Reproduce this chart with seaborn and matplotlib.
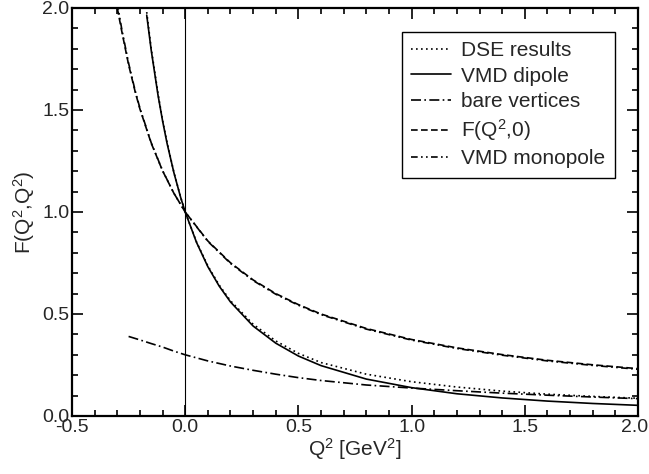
import matplotlib
matplotlib.use("Agg")
import matplotlib.pyplot as plt
import matplotlib.transforms as mtransforms
import seaborn as sns
import numpy as np
from matplotlib.ticker import MultipleLocator

sns.set_style("ticks")
plt.rcParams['font.family'] = ['Liberation Sans', 'DejaVu Sans']
plt.rcParams['mathtext.default'] = 'regular'

# ---- data ----
x_dse = [-0.17, -0.15, -0.12, -0.10, -0.08, -0.05, -0.02, 0.0, 0.05, 0.10, 0.15, 0.20,
         0.30, 0.40, 0.50, 0.60, 0.80, 1.00, 1.20, 1.40, 1.60, 1.80, 2.00]
y_dse = [1.98, 1.80, 1.58, 1.45, 1.34, 1.195, 1.072, 1.0, 0.853, 0.736, 0.642, 0.565,
         0.450, 0.368, 0.307, 0.262, 0.205, 0.168, 0.142, 0.122, 0.107, 0.096, 0.087]

x_dip = [-0.17, -0.15, -0.12, -0.10, -0.08, -0.05, -0.02, 0.0, 0.05, 0.10, 0.15, 0.20,
         0.30, 0.40, 0.50, 0.60, 0.80, 1.00, 1.20, 1.40, 1.60, 1.80, 2.00]
y_dip = [1.965, 1.792, 1.572, 1.447, 1.336, 1.193, 1.071, 1.0, 0.851, 0.732, 0.637, 0.559,
         0.441, 0.357, 0.294, 0.247, 0.181, 0.139, 0.109, 0.0885, 0.0731, 0.0614, 0.0523]

x_bare = [-0.25, -0.20, -0.15, -0.10, -0.05, 0.0, 0.10, 0.20, 0.30, 0.40, 0.50, 0.60,
          0.80, 1.00, 1.20, 1.40, 1.60, 1.80, 2.00]
y_bare = [0.390, 0.373, 0.355, 0.338, 0.318, 0.300, 0.270, 0.245, 0.224, 0.205, 0.188, 0.174,
          0.152, 0.137, 0.124, 0.112, 0.102, 0.093, 0.085]

x_f0 = [-0.30, -0.28, -0.25, -0.22, -0.20, -0.15, -0.10, -0.05, 0.0, 0.10, 0.20, 0.30,
        0.40, 0.50, 0.60, 0.80, 1.00, 1.20, 1.40, 1.60, 1.80, 2.00]
y_f0 = [2.00, 1.885, 1.722, 1.585, 1.505, 1.337, 1.202, 1.092, 1.0, 0.858, 0.751, 0.667,
        0.600, 0.546, 0.500, 0.429, 0.375, 0.334, 0.301, 0.273, 0.251, 0.232]

x_mono = [-0.30, -0.28, -0.25, -0.22, -0.20, -0.15, -0.10, -0.05, 0.0, 0.10, 0.20, 0.30,
          0.40, 0.50, 0.60, 0.80, 1.00, 1.20, 1.40, 1.60, 1.80, 2.00]
y_mono = [2.024, 1.895, 1.729, 1.590, 1.509, 1.339, 1.203, 1.092, 1.0, 0.856, 0.748, 0.664,
          0.597, 0.543, 0.497, 0.426, 0.372, 0.331, 0.298, 0.270, 0.248, 0.229]

x_ticks = [-0.5, 0.0, 0.5, 1.0, 1.5, 2.0]
y_ticks = [0.0, 0.5, 1.0, 1.5, 2.0]

labels = ["DSE results", "VMD dipole", "bare vertices", "F(Q$^2$,0)", "VMD monopole"]

fig = plt.figure(figsize=(6.49, 4.74), dpi=100)
ax = fig.add_axes([72/649, 1-416/474, 566/649, 408/474])

ax.axvline(0.0, color='black', lw=0.8, zorder=1)

series = [(x_dse, y_dse, (1, 2)),
          (x_dip, y_dip, None),
          (x_bare, y_bare, (6, 2, 1, 2)),
          (x_f0, y_f0, (4, 2)),
          (x_mono, y_mono, (4, 2, 1, 2, 1, 2))]
for (xs, ys, dash), lab in zip(series, labels):
    sns.lineplot(x=xs, y=ys, ax=ax, color='black', lw=1.2, label=lab, sort=False)
    line = ax.get_lines()[-1]
    if dash is None:
        line.set_linestyle('-')
    else:
        line.set_dashes(dash)

ax.set_xlim(-0.5, 2.0)
ax.set_ylim(0.0, 2.0)
ax.tick_params(which='both', direction='in', top=True, right=True, labelsize=14,
               color='black', width=1.2, pad=2)
ax.tick_params(which='major', length=8)
ax.tick_params(which='minor', length=4)
ax.set_xticks(x_ticks, labels=[f"{v:.1f}" for v in x_ticks])
ax.set_yticks(y_ticks, labels=[f"{v:.1f}" for v in y_ticks])
ax.xaxis.set_minor_locator(MultipleLocator(0.1))
ax.yaxis.set_minor_locator(MultipleLocator(0.1))
for s in ax.spines.values():
    s.set_linewidth(1.6)
    s.set_color('black')

ax.set_xlabel("Q$^2$ [GeV$^2$]", fontsize=15, labelpad=0)
ax.set_ylabel("F(Q$^2$,Q$^2$)", fontsize=15, labelpad=4)

leg = ax.legend(loc='upper right', bbox_to_anchor=(0.959, 0.941), fontsize=15,
                frameon=True, fancybox=False, edgecolor='black', framealpha=1,
                handlelength=1.9, handletextpad=0.5, borderpad=0.45, labelspacing=0.3,
                borderaxespad=0)
leg.get_frame().set_linewidth(1.0)

# keep the rightmost x tick label inside the canvas
last = ax.xaxis.get_major_ticks()[-1].label1
last.set_transform(last.get_transform() +
                   mtransforms.ScaledTranslation(-3/100, 0, fig.dpi_scale_trans))

fig.savefig("out.png", dpi=100)
